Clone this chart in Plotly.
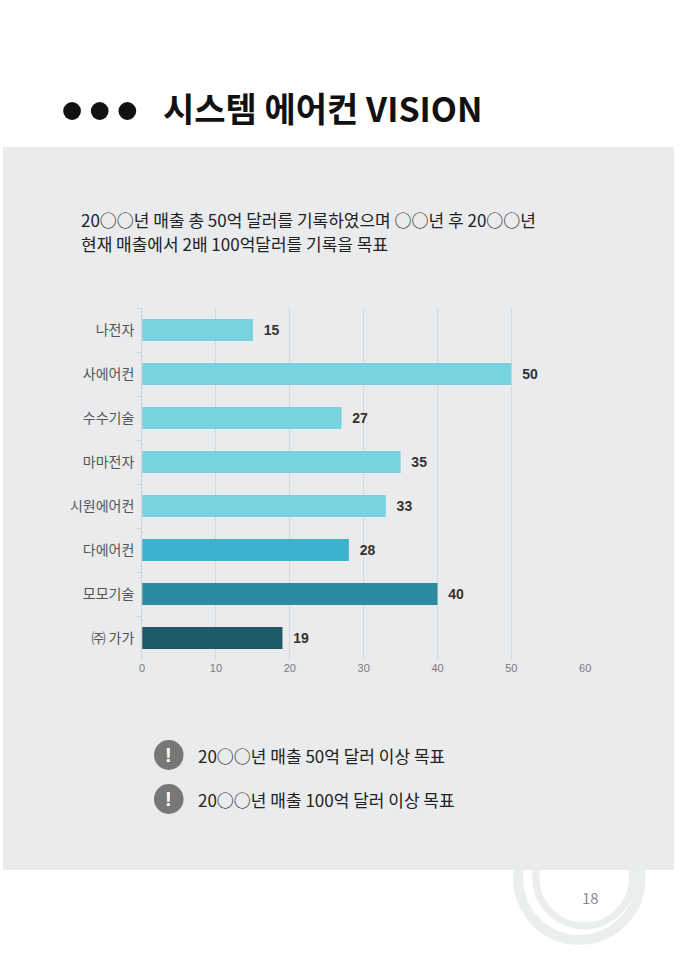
import plotly.graph_objects as go

W, H = 680, 959

companies = ['나전자', '사에어컨', '수수기술', '마마전자', '시원에어컨', '다에어컨', '모모기술', '㈜ 가가']
sales = [15, 50, 27, 35, 33, 28, 40, 19]
bar_colors = ['#79D2E0', '#79D2E0', '#79D2E0', '#79D2E0', '#79D2E0', '#3CB2CC', '#2A8BA2', '#1F5A68']
x_ticks = [0, 10, 20, 30, 40, 50, 60]

subtitle = ['20○○년 매출 총 50억 달러를 기록하였으며 ○○년 후 20○○년',
            '현재 매출에서 2배 100억달러를 기록을 목표']
goals = ['20○○년 매출 50억 달러 이상 목표', '20○○년 매출 100억 달러 이상 목표']

FONT = 'Noto Sans CJK KR'


def px(x):
    return x / W


def py(y):
    return 1 - y / H


fig = go.Figure()
fig.add_trace(go.Bar(
    x=sales, y=companies, orientation='h',
    marker=dict(color=bar_colors, line_width=0),
    width=0.5,
    text=sales, texttemplate='\u00a0\u00a0%{text}', textposition='outside', cliponaxis=False,
    textfont=dict(family='Liberation Sans', size=14, color='#333333', weight='bold'),
    hoverinfo='skip',
))

shapes = []
# decorative rings behind the grey band
shapes.append(dict(type='circle', xref='paper', yref='paper',
                   x0=px(522), x1=px(646), y0=py(940), y1=py(816),
                   line=dict(color='#EBEEEE', width=10), layer='below'))
shapes.append(dict(type='circle', xref='paper', yref='paper',
                   x0=px(540), x1=px(638), y0=py(926), y1=py(828),
                   line=dict(color='#EBEEEE', width=7), layer='below'))
# grey band
shapes.append(dict(type='rect', xref='paper', yref='paper',
                   x0=0, x1=1, y0=py(870), y1=py(147),
                   fillcolor='#E9EBED', line_width=0, layer='below'))
# title dots
for cx in [70, 98, 126]:
    shapes.append(dict(type='circle', xref='paper', yref='paper',
                       x0=px(cx - 9), x1=px(cx + 9), y0=py(111 + 9), y1=py(111 - 9),
                       fillcolor='#111111', line_width=0))
# bullet icons
bullet_y = [755, 799]
for by in bullet_y:
    shapes.append(dict(type='circle', xref='paper', yref='paper',
                       x0=px(168 - 15), x1=px(168 + 15), y0=py(by + 15), y1=py(by - 15),
                       fillcolor='#777777', line_width=0))

annotations = []
annotations.append(dict(text='시스템 에어컨 VISION', x=px(160), y=py(108), xref='paper', yref='paper',
                        xanchor='left', yanchor='middle', showarrow=False,
                        font=dict(family=FONT, size=34, color='#111111', weight='bold')))
for i, line in enumerate(subtitle):
    annotations.append(dict(text=line, x=px(77), y=py(219 + i * 24), xref='paper', yref='paper',
                            xanchor='left', yanchor='middle', showarrow=False,
                            font=dict(family=FONT, size=17, color='#222222')))
for by, g in zip(bullet_y, goals):
    annotations.append(dict(text='!', x=px(168), y=py(by), xref='paper', yref='paper',
                            xanchor='center', yanchor='middle', showarrow=False,
                            font=dict(family='Liberation Sans', size=20, color='white', weight='bold')))
    annotations.append(dict(text=g, x=px(196), y=py(by), xref='paper', yref='paper',
                            xanchor='left', yanchor='middle', showarrow=False,
                            font=dict(family=FONT, size=17, color='#222222')))
annotations.append(dict(text='18', x=px(595), y=py(897), xref='paper', yref='paper',
                        xanchor='center', yanchor='middle', showarrow=False,
                        font=dict(family=FONT, size=15, color='#8A8A8A')))

fig.update_layout(
    width=W, height=H,
    margin=dict(l=0, r=0, t=0, b=0),
    paper_bgcolor='white', plot_bgcolor='rgba(0,0,0,0)',
    showlegend=False,
    shapes=shapes, annotations=annotations,
    xaxis=dict(domain=[px(141), px(590)], range=[0, 60], tickvals=x_ticks,
               showgrid=True, gridcolor='#D6D9DC', gridwidth=1, zeroline=False,
               tickfont=dict(family='Liberation Sans', size=11, color='#7A7A7A'),
               ticks='', fixedrange=True),
    yaxis=dict(domain=[py(660), py(308)], autorange='reversed',
               showline=True, linecolor='#D0D3D6', linewidth=1,
               ticks='outside', tickson='boundaries', ticklen=4, tickcolor='#D0D3D6',
               tickfont=dict(family=FONT, size=14, color='#555555'),
               ticklabelstandoff=4, fixedrange=True),
)

# pin the figure to the window origin so page margins do not shift it
page_fix = (
    "document.body.style.margin='0';"
    "document.body.style.overflow='hidden';"
    "var d=document.getElementById('{plot_id}');"
    "d.style.position='fixed';d.style.left='0px';d.style.top='0px';"
)
fig.write_html('out.html', config={'displayModeBar': False}, post_script=page_fix)
